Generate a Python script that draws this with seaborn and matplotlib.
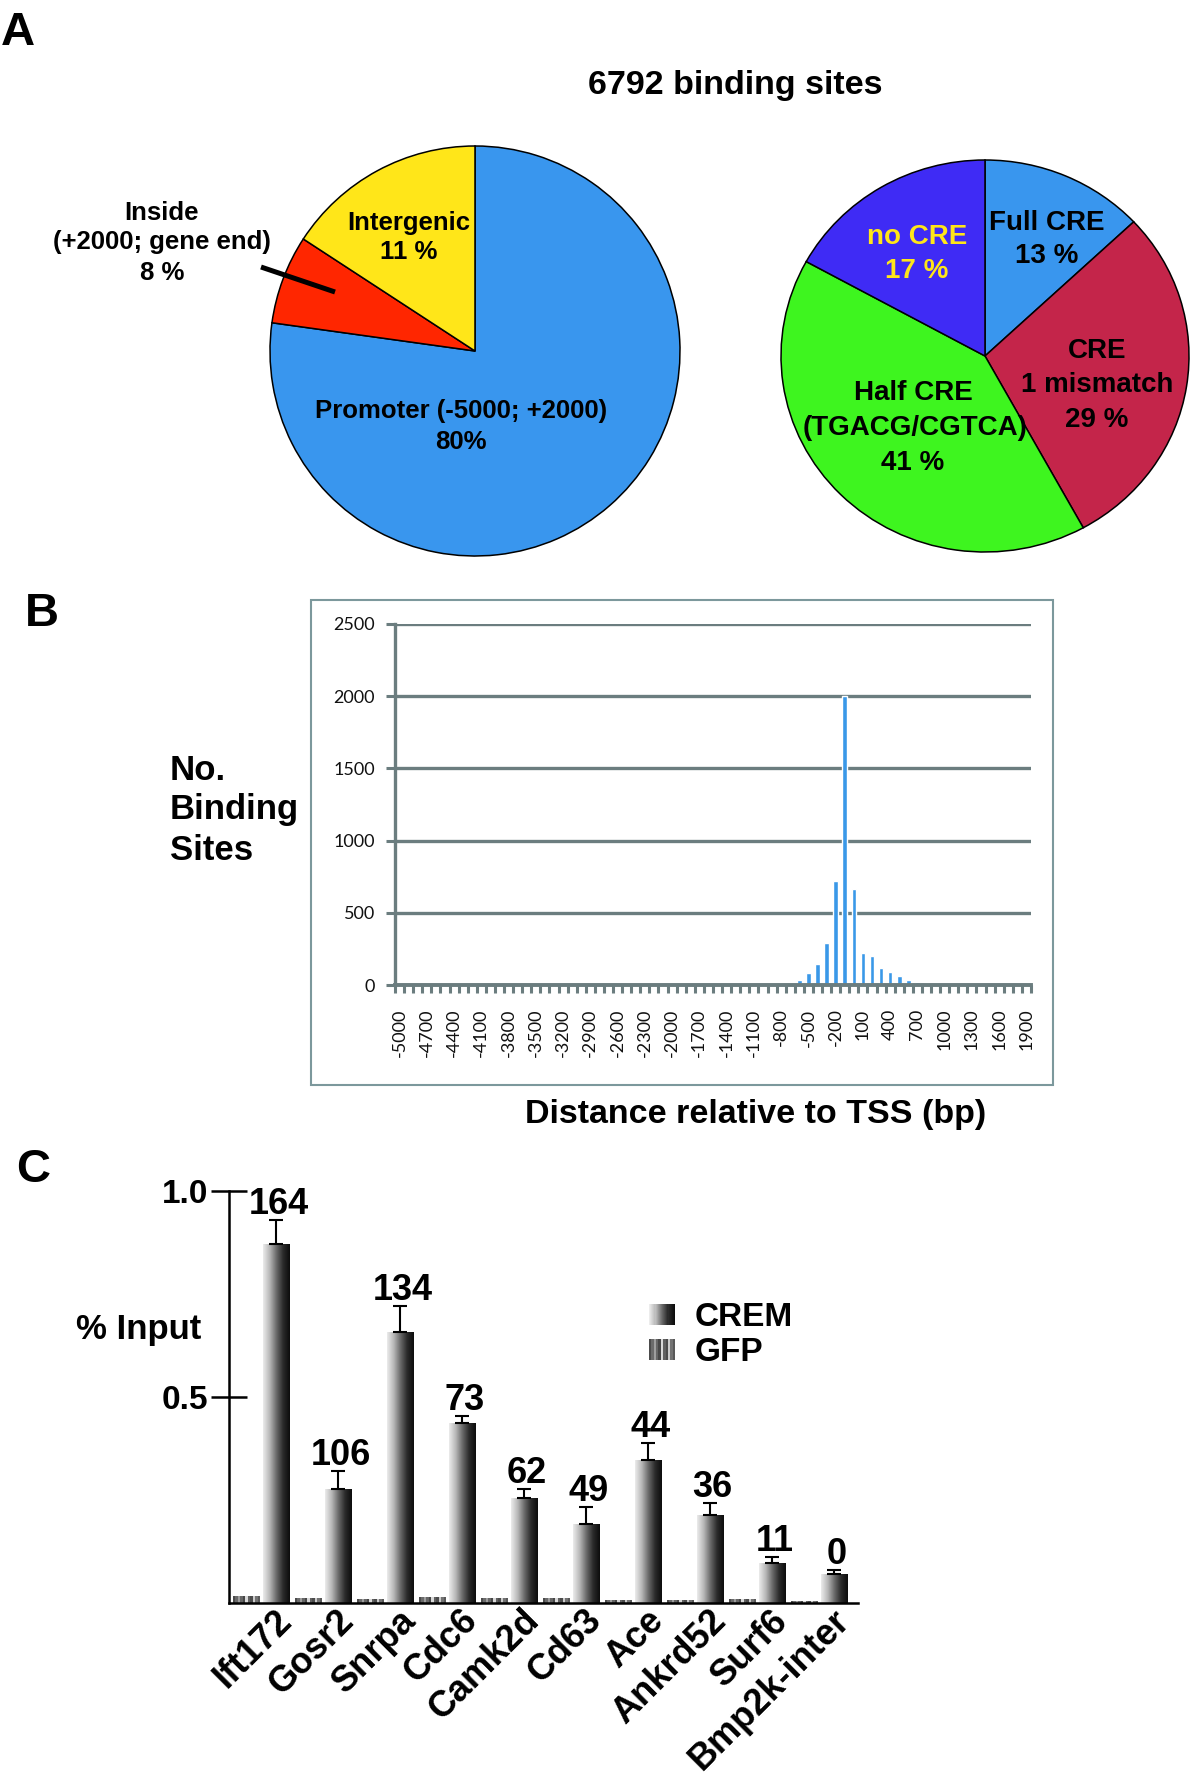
import numpy as np
import pandas as pd
import matplotlib
matplotlib.use("Agg")
import matplotlib.pyplot as plt
import seaborn as sns
from matplotlib.patches import Rectangle
from matplotlib.lines import Line2D
from matplotlib.colors import LinearSegmentedColormap
from matplotlib.legend_handler import HandlerBase
from matplotlib.transforms import ScaledTranslation

# ---------------- data ----------------
region_labels = ["Promoter", "Inside", "Intergenic"]
region_share = [77.2, 7.0, 15.8]          # wedge sizes as drawn
region_colors = ["#3996EE", "#FF2600", "#FFE619"]

cre_labels = ["Full CRE", "CRE 1 mismatch", "Half CRE", "no CRE"]
cre_share = [13, 29, 41, 17]
cre_colors = ["#3996EE", "#C4254A", "#3EF51F", "#3F2BF5"]

tss_bins = [str(v) for v in range(-5000, 2000, 100)]
tss_counts = [0, 0, 0, 0, 0, 0, 0, 0, 0, 0,
              0, 0, 0, 0, 0, 0, 0, 0, 0, 0,
              0, 0, 0, 0, 0, 0, 0, 0, 0, 0,
              0, 0, 0, 0, 0, 0, 1, 1, 2, 2,
              3,                                   # -1000
              4, 10, 10, 38, 85, 145, 292, 722,    # -900 .. -200
              2000, 668,                           # -100, 0
              225, 200, 118, 93, 60, 38, 24, 12, 5,  # 100 .. 900
              3, 2, 2, 2, 1, 1, 1, 1, 1, 1]        # 1000 .. 1900

genes = ["Ift172", "Gosr2", "Snrpa", "Cdc6", "Camk2d", "Cd63", "Ace",
         "Ankrd52", "Surf6", "Bmp2k-inter"]
crem_input = [0.871, 0.277, 0.658, 0.436, 0.255, 0.191, 0.348, 0.214, 0.097, 0.071]
crem_err = [0.058, 0.044, 0.063, 0.019, 0.022, 0.041, 0.041, 0.028, 0.014, 0.009]
gfp_input = [0.018, 0.012, 0.009, 0.014, 0.011, 0.011, 0.008, 0.007, 0.010, 0.006]
enrichment = ["164", "106", "134", "73", "62", "49", "44", "36", "11", "0"]

# ---------------- setup ----------------
sns.set_theme(style="white")
plt.rcParams["font.family"] = ["Liberation Sans", "DejaVu Sans"]
plt.rcParams["font.weight"] = "bold"
plt.rcParams["text.color"] = "black"
plt.rcParams["xtick.color"] = "black"
plt.rcParams["ytick.color"] = "black"
plt.rcParams["axes.labelcolor"] = "black"

W, H = 1200, 1778
fig = plt.figure(figsize=(W / 100, H / 100), dpi=100)


def fx(px):
    return px / W


def fy(py):
    return 1 - py / H


def ctext(x, yc, s, size, ha="center", color="black", weight="bold", family=None):
    """Text whose cap-height centre sits at pixel row yc."""
    base = yc + 0.36 * size * 100 / 72
    kw = {}
    if family:
        kw["family"] = family
    fig.text(fx(x), fy(base), s, ha=ha, va="baseline", fontsize=size,
             color=color, fontweight=weight, **kw)


# panel letters
ctext(18, 28, "A", 34)
ctext(42, 609, "B", 34)
ctext(33, 1165, "C", 34)

# ---------------- Panel A ----------------
ctext(735, 82, "6792 binding sites", 24.5)

# left pie
cx, cy, r = 475, 351, 205
lim = 1.03
axP1 = fig.add_axes([fx(cx - r * lim), fy(cy + r * lim), 2 * r * lim / W, 2 * r * lim / H])
axP1.pie(region_share, colors=region_colors, startangle=90, counterclock=False,
         wedgeprops=dict(edgecolor="black", linewidth=1.1))
axP1.set_xlim(-lim, lim)
axP1.set_ylim(-lim, lim)
axP1.set_aspect("auto")
axP1.axis("off")

fs1 = 18.5
ctext(409, 221, "Intergenic", fs1)
ctext(409, 250, "11 %", fs1)
ctext(461, 409, "Promoter (-5000; +2000)", fs1)
ctext(461, 440, "80%", fs1)
ctext(162, 211, "Inside", fs1)
ctext(162, 240, "(+2000; gene end)", fs1)
ctext(162, 271, "8 %", fs1)
fig.add_artist(Line2D([fx(261), fx(335)], [fy(267), fy(292)], transform=fig.transFigure,
                      color="black", lw=3.6, solid_capstyle="butt"))

# right pie (slightly elliptical, as in the figure)
cx2, cy2, rx2, ry2 = 985, 356, 204, 196
axP2 = fig.add_axes([fx(cx2 - rx2 * lim), fy(cy2 + ry2 * lim), 2 * rx2 * lim / W, 2 * ry2 * lim / H])
axP2.pie(cre_share, colors=cre_colors, startangle=90, counterclock=False,
         wedgeprops=dict(edgecolor="black", linewidth=1.1))
axP2.set_xlim(-lim, lim)
axP2.set_ylim(-lim, lim)
axP2.set_aspect("auto")
axP2.axis("off")

fs2 = 20
ctext(1047, 220, "Full CRE", fs2)
ctext(1047, 253, "13 %", fs2)
ctext(917, 234, "no CRE", fs2, color="#FFE619")
ctext(917, 268, "17 %", fs2, color="#FFE619")
ctext(1097, 348, "CRE", fs2)
ctext(1097, 382, "1 mismatch", fs2)
ctext(1097, 417, "29 %", fs2)
ctext(913, 390, "Half CRE", fs2)
ctext(915, 425, "(TGACG/CGTCA)", fs2)
ctext(913, 460, "41 %", fs2)

# ---------------- Panel B ----------------
GRID = "#6B7D7F"
fig.add_artist(Rectangle((fx(311), fy(1085)), (1053 - 311) / W, (1085 - 600) / H,
                         transform=fig.transFigure, fill=False, edgecolor="#7C989C", lw=1.5))
axB = fig.add_axes([fx(395), fy(985), (1031 - 395) / W, (985 - 624) / H])
dfB = pd.DataFrame({"bin": tss_bins, "count": tss_counts})
sns.barplot(data=dfB, x="bin", y="count", order=tss_bins, color="#3A98E8",
            saturation=1, width=0.5, ax=axB, zorder=3)
axB.set_xlim(-0.5, len(tss_bins) - 0.5)
axB.set_ylim(0, 2500)
axB.set_yticks([0, 500, 1000, 1500, 2000, 2500])
axB.yaxis.grid(True, color=GRID, lw=2.4, zorder=1)
axB.xaxis.grid(False)
axB.set_axisbelow(True)
for s in ["top", "right"]:
    axB.spines[s].set_visible(False)
axB.spines["left"].set_color(GRID)
axB.spines["left"].set_linewidth(2.4)
axB.spines["bottom"].set_color(GRID)
axB.spines["bottom"].set_linewidth(2.8)
axB.spines["bottom"].set_zorder(4)
axB.set_xlabel("")
axB.set_ylabel("")
axB.set_xticks(range(0, len(tss_bins), 3))
axB.set_xticklabels(tss_bins[::3], rotation=90, ha="center", va="top")
axB.set_xticks(np.arange(-0.5, len(tss_bins), 1), minor=True)
axB.tick_params(axis="x", which="major", length=0, pad=17)
axB.tick_params(axis="x", which="minor", bottom=True, length=5.8, width=2.2, color=GRID)
axB.tick_params(axis="y", left=True, length=6.5, width=2.2, color=GRID, pad=8)
for lab in axB.get_xticklabels() + axB.get_yticklabels():
    lab.set_family(["Lato", "DejaVu Sans"])
    lab.set_fontweight("normal")
    lab.set_fontsize(13)
    lab.set_color("#111111")
for y_c, s in zip([767, 807, 848], ["No.", "Binding", "Sites"]):
    ctext(170, y_c, s, 25, ha="left")
ctext(756, 1111, "Distance relative to TSS (bp)", 24.5)

# ---------------- Panel C ----------------
axC = fig.add_axes([fx(229), fy(1603), 629 / W, 412 / H])
dfC = pd.DataFrame({
    "gene": genes * 2,
    "condition": ["GFP"] * len(genes) + ["CREM"] * len(genes),
    "input": gfp_input + crem_input,
})
sns.barplot(data=dfC, x="gene", y="input", hue="condition", order=genes,
            hue_order=["GFP", "CREM"], width=0.97, gap=0.13, errorbar=None,
            saturation=1, palette=["#777777", "#444444"], legend=False, ax=axC, zorder=2)
xlimC = (-0.52, 9.63)

crem_cmap = LinearSegmentedColormap.from_list(
    "crem", ["#ececec", "#b8b8b8", "#6a6a6a", "#2a2a2a", "#0c0c0c"])
grad = np.linspace(0, 1, 256).reshape(1, -1)
gfp_stripes = np.array([[0.30, 0.42, 0.62, 0.40, 0.28, 0.85, 0.38, 0.30, 0.80, 0.45, 0.35]])

crem_bars = []
for p in list(axC.patches):
    w = p.get_width()
    x0 = p.get_x()
    h = p.get_height()
    xc = x0 + w / 2
    is_crem = (xc - round(xc)) > 0
    if is_crem:
        crem_bars.append(p)
        im = axC.imshow(grad, cmap=crem_cmap, extent=(x0, x0 + w, 0, h), aspect="auto",
                        interpolation="bilinear", zorder=2.5)
    else:
        im = axC.imshow(gfp_stripes, cmap="gray", vmin=0, vmax=1, extent=(x0, x0 + w, 0, h),
                        aspect="auto", interpolation="nearest", zorder=2.5)
    im.set_clip_path(p)
    p.set_facecolor("none")
    p.set_edgecolor("none")

crem_bars.sort(key=lambda b: b.get_x())
bx = [b.get_x() + b.get_width() / 2 for b in crem_bars]
axC.errorbar(bx, crem_input, yerr=[np.zeros(len(crem_err)), crem_err], fmt="none",
             ecolor="black", elinewidth=1.5, capsize=5.2, capthick=1.5, zorder=3)
lift = ScaledTranslation(0, 6 / 100, fig.dpi_scale_trans)
for xb, top, e, lab in zip(bx, crem_input, crem_err, enrichment):
    axC.text(xb + 0.04, top + e, lab, ha="center", va="baseline", fontsize=26,
             fontweight="bold", color="black", transform=axC.transData + lift, zorder=4)

axC.set_xlim(*xlimC)
axC.set_ylim(0, 1.0)
for s in ["top", "right"]:
    axC.spines[s].set_visible(False)
for s in ["left", "bottom"]:
    axC.spines[s].set_color("black")
    axC.spines[s].set_linewidth(1.8)
axC.spines["left"].set_zorder(5)
axC.spines["bottom"].set_zorder(5)
axC.set_yticks([0.5, 1.0])
axC.set_yticklabels(["0.5", "1.0"])
axC.tick_params(axis="y", left=True, direction="inout", length=26, width=1.8,
                color="black", pad=2, labelsize=24, labelcolor="black")
axC.set_xlabel("")
axC.set_ylabel("")
axC.tick_params(axis="x", length=0, pad=0, labelsize=26, labelcolor="black")
shift = ScaledTranslation(13 / 100, 0, fig.dpi_scale_trans)
for lab in axC.get_xticklabels():
    lab.set_rotation(45)
    lab.set_ha("right")
    lab.set_va("top")
    lab.set_rotation_mode("anchor")
    lab.set_fontweight("bold")
    lab.set_transform(lab.get_transform() + shift)
for lab in axC.get_yticklabels():
    lab.set_fontweight("bold")
ctext(139, 1327, "% Input", 25)


class StripeHandler(HandlerBase):
    def __init__(self, colors):
        super().__init__()
        self.colors = colors

    def create_artists(self, legend, orig_handle, xdescent, ydescent, width, height,
                       fontsize, trans):
        n = len(self.colors)
        w = width / n
        return [Rectangle((-xdescent + i * w, -ydescent), w * 1.05, height, facecolor=c,
                          edgecolor="none", transform=trans)
                for i, c in enumerate(self.colors)]


crem_swatch = [crem_cmap(v) for v in np.linspace(0, 1, 24)]
gfp_swatch = [plt.cm.gray(v) for v in gfp_stripes[0]]
h_crem = Rectangle((0, 0), 1, 1)
h_gfp = Rectangle((0, 0), 1, 1)
axC.legend([h_crem, h_gfp], ["CREM", "GFP"],
           handler_map={h_crem: StripeHandler(crem_swatch), h_gfp: StripeHandler(gfp_swatch)},
           loc="upper left", bbox_to_anchor=(fx(649), fy(1302)), bbox_transform=fig.transFigure,
           frameon=False, borderpad=0, borderaxespad=0, handlelength=0.78, handleheight=0.58,
           handletextpad=0.6, labelspacing=0.12, labelcolor="black",
           prop=dict(size=24, weight="bold"))

fig.savefig("out.png", dpi=100)
